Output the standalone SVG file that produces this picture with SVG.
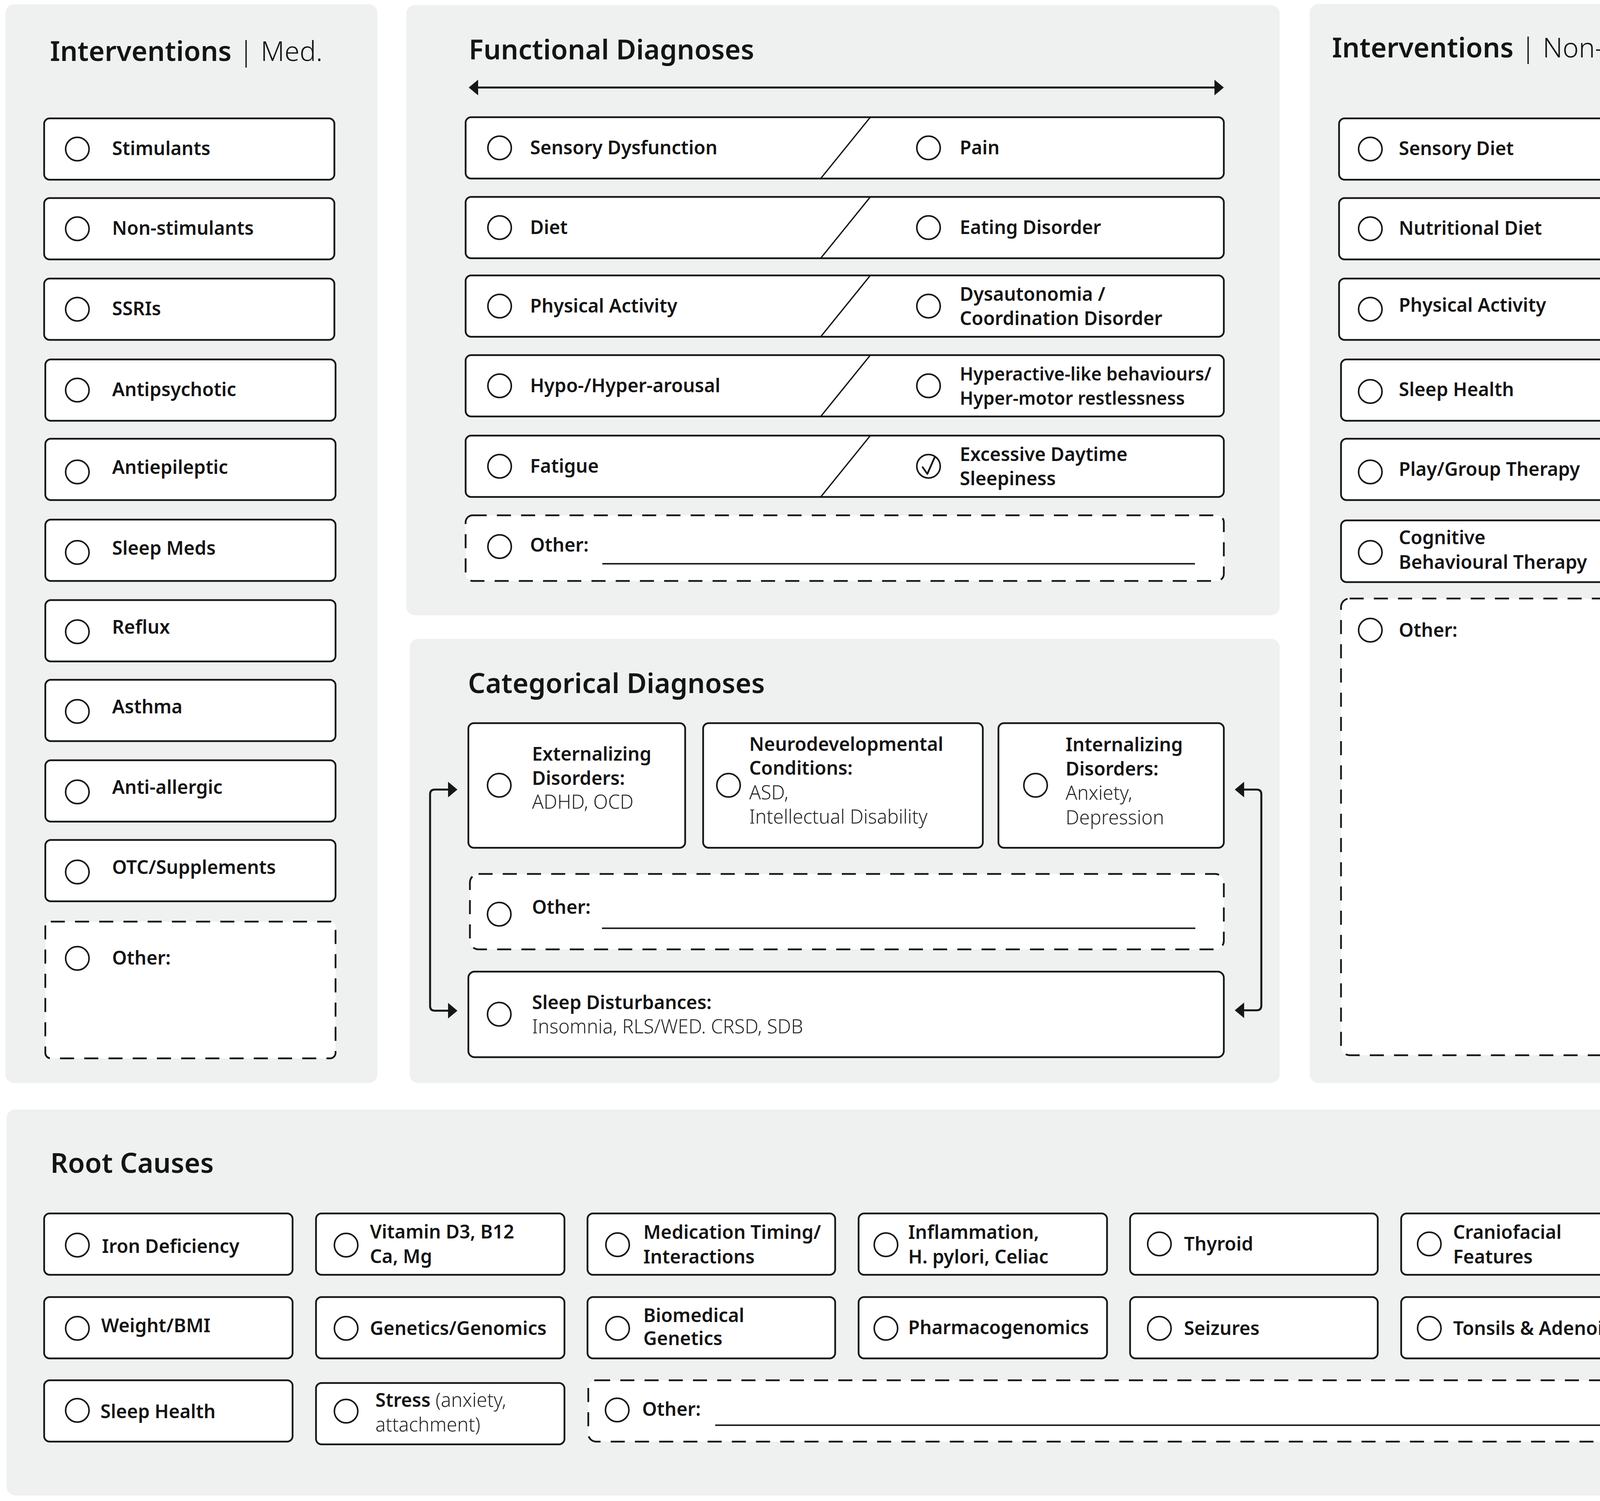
<svg xmlns="http://www.w3.org/2000/svg" width="4317" height="3842" viewBox="0 0 4317 3842">
<defs>
<style>
.bg{fill:#ffffff}
.panel{fill:#eff0f0}
.box{fill:#ffffff;stroke:#161616;stroke-width:4.5}
.dash{fill:#ffffff;stroke:#161616;stroke-width:4.5;stroke-dasharray:36 26}
.radio{fill:none;stroke:#161616;stroke-width:4}
.sep{stroke:#161616;stroke-width:3.5;fill:none}
.rule{stroke:#222222;stroke-width:4;fill:none}
.conn{stroke:#161616;stroke-width:5;fill:none}
text{font-family:'Noto Sans','Open Sans',sans-serif;fill:#141414}
.t{font-size:48px;font-weight:600}
.s{font-size:46px}
.l{font-size:49px;font-weight:300;fill:#262626}
.h{font-size:70px;font-weight:600}
.hl{font-weight:300}
</style>
<marker id="ah" viewBox="0 0 24 40" refX="14" refY="20" markerWidth="24" markerHeight="40" markerUnits="userSpaceOnUse" orient="auto-start-reverse">
<path d="M0,0 L24,20 L0,40 Z" fill="#161616"/>
</marker>
</defs>
<rect class="bg" x="0" y="0" width="4317" height="3842"/>

<!-- Panels -->
<g id="panel-med">
<rect class="panel" x="14" y="11" width="952" height="2761" rx="22"/>
<text class="h" x="128" y="156">Interventions<tspan class="hl"> | Med.</tspan></text>
</g>
<g id="panel-functional">
<rect class="panel" x="1040" y="13" width="2236" height="1562" rx="22"/>
<text class="h" x="1200" y="152">Functional Diagnoses</text>
</g>
<g id="panel-categorical">
<rect class="panel" x="1049" y="1635" width="2227" height="1137" rx="22"/>
<text class="h" x="1198" y="1774">Categorical Diagnoses</text>
</g>
<g id="panel-nonmed">
<rect class="panel" x="3353" y="10" width="953" height="2762" rx="22"/>
<text class="h" x="3410" y="147">Interventions<tspan class="hl"> | Non-Med.</tspan></text>
</g>
<g id="panel-root">
<rect class="panel" x="17" y="2840" width="4283" height="988" rx="22"/>
<text class="h" x="129" y="3002">Root Causes</text>
</g>

<!-- Interventions Med -->
<g id="med-stimulants"><rect class="box" x="113" y="303" width="743" height="157" rx="14"/><circle class="radio" cx="198" cy="381.5" r="30"/><text class="t" x="287" y="397">Stimulants</text></g>
<g id="med-nonstimulants"><rect class="box" x="113" y="507" width="743" height="157" rx="14"/><circle class="radio" cx="198" cy="585.5" r="30"/><text class="t" x="287" y="601">Non-stimulants</text></g>
<g id="med-ssris"><rect class="box" x="113" y="713" width="743" height="157" rx="14"/><circle class="radio" cx="198" cy="791.5" r="30"/><text class="t" x="287" y="807">SSRIs</text></g>
<g id="med-antipsychotic"><rect class="box" x="116" y="920" width="743" height="157" rx="14"/><circle class="radio" cx="198" cy="998.5" r="30"/><text class="t" x="287" y="1014">Antipsychotic</text></g>
<g id="med-antiepileptic"><rect class="box" x="116" y="1123" width="743" height="157" rx="14"/><circle class="radio" cx="198" cy="1208" r="30"/><text class="t" x="287" y="1213">Antiepileptic</text></g>
<g id="med-sleepmeds"><rect class="box" x="116" y="1330" width="743" height="157" rx="14"/><circle class="radio" cx="198" cy="1414" r="30"/><text class="t" x="287" y="1420">Sleep Meds</text></g>
<g id="med-reflux"><rect class="box" x="116" y="1536" width="743" height="157" rx="14"/><circle class="radio" cx="198" cy="1617" r="30"/><text class="t" x="287" y="1622">Reflux</text></g>
<g id="med-asthma"><rect class="box" x="116" y="1740" width="743" height="157" rx="14"/><circle class="radio" cx="198" cy="1821" r="30"/><text class="t" x="287" y="1826">Asthma</text></g>
<g id="med-antiallergic"><rect class="box" x="116" y="1946" width="743" height="157" rx="14"/><circle class="radio" cx="198" cy="2027" r="30"/><text class="t" x="287" y="2032">Anti-allergic</text></g>
<g id="med-otc"><rect class="box" x="116" y="2150" width="743" height="157" rx="14"/><circle class="radio" cx="198" cy="2232" r="30"/><text class="t" x="287" y="2237">OTC/Supplements</text></g>
<g id="med-other"><rect class="dash" x="116" y="2359" width="743" height="350" rx="14"/><circle class="radio" cx="198" cy="2453" r="30"/><text class="t" x="287" y="2469">Other:</text></g>

<!-- Functional Diagnoses -->
<g id="fd-sensory">
<rect class="box" x="1192" y="300" width="1941" height="157" rx="14"/>
<line class="sep" x1="2228" y1="300" x2="2101" y2="457"/>
<circle class="radio" cx="1279" cy="378.5" r="30"/><text class="t" x="1357" y="395">Sensory Dysfunction</text>
<circle class="radio" cx="2377" cy="378.5" r="30"/><text class="t" x="2457" y="395">Pain</text>
</g>
<g id="fd-diet">
<rect class="box" x="1192" y="504" width="1941" height="157" rx="14"/>
<line class="sep" x1="2228" y1="504" x2="2101" y2="661"/>
<circle class="radio" cx="1279" cy="582.5" r="30"/><text class="t" x="1357" y="599">Diet</text>
<circle class="radio" cx="2377" cy="582.5" r="30"/><text class="t" x="2457" y="599">Eating Disorder</text>
</g>
<g id="fd-physical">
<rect class="box" x="1192" y="705" width="1941" height="157" rx="14"/>
<line class="sep" x1="2228" y1="705" x2="2101" y2="862"/>
<circle class="radio" cx="1279" cy="783.5" r="30"/><text class="t" x="1357" y="800">Physical Activity</text>
<circle class="radio" cx="2377" cy="783.5" r="30"/><text class="t" x="2457" y="770">Dysautonomia /</text><text class="t" x="2457" y="832">Coordination Disorder</text>
</g>
<g id="fd-arousal">
<rect class="box" x="1192" y="909" width="1941" height="157" rx="14"/>
<line class="sep" x1="2228" y1="909" x2="2101" y2="1066"/>
<circle class="radio" cx="1279" cy="987.5" r="30"/><text class="t" x="1357" y="1004">Hypo-/Hyper-arousal</text>
<circle class="radio" cx="2377" cy="987.5" r="30"/><text class="t s" x="2457" y="974">Hyperactive-like behaviours/</text><text class="t s" x="2457" y="1036">Hyper-motor restlessness</text>
</g>
<g id="fd-fatigue">
<rect class="box" x="1192" y="1115" width="1941" height="157" rx="14"/>
<line class="sep" x1="2228" y1="1115" x2="2101" y2="1272"/>
<circle class="radio" cx="1279" cy="1193.5" r="30"/><text class="t" x="1357" y="1210">Fatigue</text>
<circle class="radio" cx="2377" cy="1193.5" r="30"/>
<path d="M2362 1196 L2374 1213 L2393 1170" fill="none" stroke="#161616" stroke-width="4.5" stroke-linejoin="round" stroke-linecap="round"/>
<text class="t" x="2457" y="1180">Excessive Daytime</text><text class="t" x="2457" y="1242">Sleepiness</text>
</g>
<g id="fd-other">
<rect class="dash" x="1192" y="1319" width="1941" height="168" rx="18"/>
<circle class="radio" cx="1279" cy="1399" r="30"/><text class="t" x="1357" y="1412">Other:</text>
<line class="rule" x1="1542" y1="1443" x2="3059" y2="1443"/>
</g>

<!-- Categorical Diagnoses -->
<g id="cd-externalizing">
<rect class="box" x="1199" y="1851" width="555" height="319" rx="14"/>
<circle class="radio" cx="1278" cy="2010" r="30"/>
<text class="t" x="1362" y="1947">Externalizing</text><text class="t" x="1362" y="2009">Disorders:</text><text class="l" x="1362" y="2070">ADHD, OCD</text>
</g>
<g id="cd-neurodevelopmental">
<rect class="box" x="1800" y="1851" width="716" height="319" rx="14"/>
<circle class="radio" cx="1865" cy="2010" r="30"/>
<text class="t" x="1918" y="1922">Neurodevelopmental</text><text class="t" x="1918" y="1983">Conditions:</text><text class="l" x="1918" y="2046">ASD,</text><text class="l" x="1918" y="2108">Intellectual Disability</text>
</g>
<g id="cd-internalizing">
<rect class="box" x="2556" y="1851" width="577" height="319" rx="14"/>
<circle class="radio" cx="2651" cy="2010" r="30"/>
<text class="t" x="2728" y="1923">Internalizing</text><text class="t" x="2728" y="1985">Disorders:</text><text class="l" x="2728" y="2047">Anxiety,</text><text class="l" x="2728" y="2110">Depression</text>
</g>
<g id="cd-other">
<rect class="dash" x="1203" y="2237" width="1930" height="193" rx="22"/>
<circle class="radio" cx="1278" cy="2340" r="30"/><text class="t" x="1362" y="2339">Other:</text>
<line class="rule" x1="1541" y1="2376" x2="3060" y2="2376"/>
</g>
<g id="cd-sleep">
<rect class="box" x="1199" y="2487" width="1934" height="219" rx="16"/>
<circle class="radio" cx="1278" cy="2596" r="30"/>
<text class="t" x="1362" y="2583">Sleep Disturbances:</text><text class="l" x="1362" y="2645">Insomnia, RLS/WED. CRSD, SDB</text>
</g>

<!-- Interventions Non-Med -->
<g id="nm-sensory"><rect class="box" x="3428" y="303" width="794" height="157" rx="14"/><circle class="radio" cx="3508" cy="381.5" r="30"/><text class="t" x="3581" y="397">Sensory Diet</text></g>
<g id="nm-nutritional"><rect class="box" x="3428" y="507" width="794" height="157" rx="14"/><circle class="radio" cx="3508" cy="585.5" r="30"/><text class="t" x="3581" y="601">Nutritional Diet</text></g>
<g id="nm-physical"><rect class="box" x="3428" y="713" width="794" height="157" rx="14"/><circle class="radio" cx="3508" cy="791.5" r="30"/><text class="t" x="3581" y="798">Physical Activity</text></g>
<g id="nm-sleep"><rect class="box" x="3433" y="920" width="793" height="157" rx="14"/><circle class="radio" cx="3508" cy="1002" r="30"/><text class="t" x="3581" y="1014">Sleep Health</text></g>
<g id="nm-play"><rect class="box" x="3433" y="1123" width="793" height="157" rx="14"/><circle class="radio" cx="3508" cy="1208" r="30"/><text class="t" x="3581" y="1218">Play/Group Therapy</text></g>
<g id="nm-cbt"><rect class="box" x="3433" y="1332" width="793" height="158" rx="14"/><circle class="radio" cx="3508" cy="1414" r="30"/><text class="t" x="3581" y="1393">Cognitive</text><text class="t" x="3581" y="1456">Behavioural Therapy</text></g>
<g id="nm-other"><rect class="dash" x="3433" y="1532" width="793" height="1169" rx="22"/><circle class="radio" cx="3508" cy="1613" r="30"/><text class="t" x="3581" y="1630">Other:</text></g>

<!-- Root Causes -->
<g id="rc-iron"><rect class="box" x="113" y="3106" width="636" height="157" rx="14"/><circle class="radio" cx="198" cy="3187" r="30"/><text class="t" x="261" y="3207">Iron Deficiency</text></g>
<g id="rc-vitamin"><rect class="box" x="809" y="3106" width="636" height="157" rx="14"/><circle class="radio" cx="886" cy="3187" r="30"/><text class="t" x="947" y="3170">Vitamin D3, B12</text><text class="t" x="947" y="3233">Ca, Mg</text></g>
<g id="rc-medication"><rect class="box" x="1504" y="3106" width="634" height="157" rx="14"/><circle class="radio" cx="1581" cy="3186" r="30"/><text class="t" x="1647" y="3171">Medication Timing/</text><text class="t" x="1647" y="3234">Interactions</text></g>
<g id="rc-inflammation"><rect class="box" x="2198" y="3106" width="636" height="157" rx="14"/><circle class="radio" cx="2268" cy="3186" r="30"/><text class="t" x="2325" y="3171">Inflammation,</text><text class="t" x="2325" y="3234">H. pylori, Celiac</text></g>
<g id="rc-thyroid"><rect class="box" x="2893" y="3106" width="634" height="157" rx="14"/><circle class="radio" cx="2968" cy="3184" r="30"/><text class="t" x="3031" y="3201">Thyroid</text></g>
<g id="rc-craniofacial"><rect class="box" x="3587" y="3106" width="636" height="157" rx="14"/><circle class="radio" cx="3659" cy="3184" r="30"/><text class="t" x="3720" y="3171">Craniofacial</text><text class="t" x="3720" y="3234">Features</text></g>

<g id="rc-weight"><rect class="box" x="113" y="3320" width="636" height="157" rx="14"/><circle class="radio" cx="198" cy="3400" r="30"/><text class="t" x="259" y="3410">Weight/BMI</text></g>
<g id="rc-genetics"><rect class="box" x="809" y="3320" width="636" height="157" rx="14"/><circle class="radio" cx="886" cy="3400" r="30"/><text class="t" x="947" y="3417">Genetics/Genomics</text></g>
<g id="rc-biomedical"><rect class="box" x="1504" y="3320" width="634" height="157" rx="14"/><circle class="radio" cx="1581" cy="3400" r="30"/><text class="t" x="1647" y="3384">Biomedical</text><text class="t" x="1647" y="3443">Genetics</text></g>
<g id="rc-pharmaco"><rect class="box" x="2198" y="3320" width="636" height="157" rx="14"/><circle class="radio" cx="2268" cy="3400" r="30"/><text class="t" x="2325" y="3415">Pharmacogenomics</text></g>
<g id="rc-seizures"><rect class="box" x="2893" y="3320" width="634" height="157" rx="14"/><circle class="radio" cx="2968" cy="3400" r="30"/><text class="t" x="3031" y="3417">Seizures</text></g>
<g id="rc-tonsils"><rect class="box" x="3587" y="3320" width="636" height="157" rx="14"/><circle class="radio" cx="3659" cy="3400" r="30"/><text class="t" x="3720" y="3417">Tonsils &amp; Adenoids</text></g>

<g id="rc-sleep"><rect class="box" x="113" y="3533" width="636" height="157" rx="14"/><circle class="radio" cx="198" cy="3610" r="30"/><text class="t" x="257" y="3630">Sleep Health</text></g>
<g id="rc-stress"><rect class="box" x="809" y="3540" width="636" height="157" rx="14"/><circle class="radio" cx="886" cy="3612" r="30"/><text class="t" x="961" y="3601">Stress<tspan class="l"> (anxiety,</tspan></text><text class="l" x="961" y="3664">attachment)</text></g>
<g id="rc-other"><rect class="dash" x="1506" y="3533" width="2715" height="157" rx="20"/><circle class="radio" cx="1580" cy="3609" r="30"/><text class="t" x="1644" y="3624">Other:</text><line class="rule" x1="1831" y1="3648" x2="4170" y2="3648"/></g>

<!-- Connectors -->
<g id="connectors">
<path class="conn" d="M1210 224 H3123" marker-start="url(#ah)" marker-end="url(#ah)"/>
<path class="conn" d="M1161 2021 H1113 Q1101 2021 1101 2033 V2575 Q1101 2587 1113 2587 H1161" marker-start="url(#ah)" marker-end="url(#ah)"/>
<path class="conn" d="M3171 2021 H3217 Q3229 2021 3229 2033 V2574 Q3229 2586 3217 2586 H3171" marker-start="url(#ah)" marker-end="url(#ah)"/>
</g>
</svg>
